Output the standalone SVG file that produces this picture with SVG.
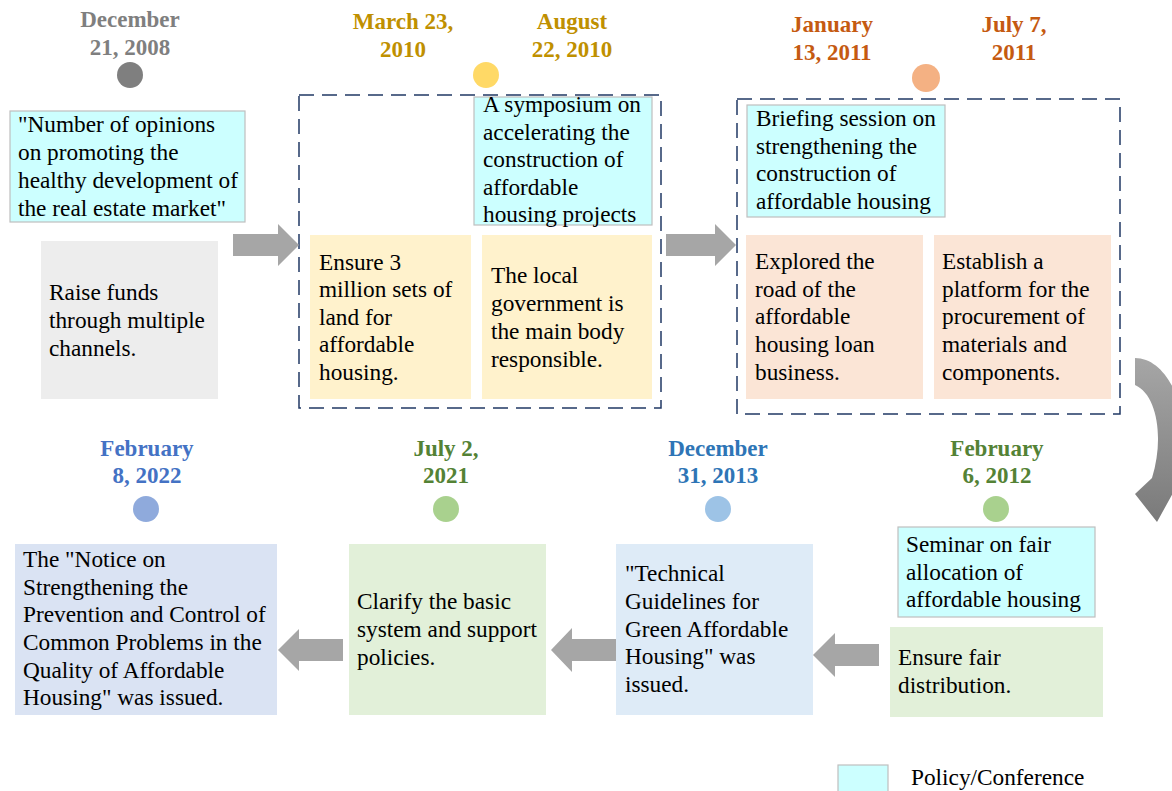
<svg xmlns="http://www.w3.org/2000/svg" width="1172" height="791" viewBox="0 0 1172 791">
<defs>
<style>
.t{font-family:"Liberation Serif","Times New Roman",serif;font-size:23.3px;fill:#000}
.d{font-family:"Liberation Serif","Times New Roman",serif;font-size:23px;font-weight:bold;text-anchor:middle}
.cy{fill:#ccffff;stroke:#bfbfbf;stroke-width:1.2}
.dash{fill:none;stroke:#203864;stroke-width:1.5;stroke-dasharray:15 8}
.arr{fill:#a6a6a6}
</style>
<linearGradient id="cg" x1="0" y1="0" x2="0" y2="1">
<stop offset="0" stop-color="#a6a6a6"/>
<stop offset="1" stop-color="#7a7a7a"/>
</linearGradient>
</defs>
<rect width="1172" height="791" fill="#ffffff"/>

<g id="group-2010">
<rect class="dash" x="299" y="95" width="362" height="313"/>
</g>
<g id="group-2011">
<rect class="dash" x="737" y="99" width="383" height="315"/>
</g>

<g id="node-2008">
<text class="d" fill="#7f7f7f" x="130" y="27">December</text>
<text class="d" fill="#7f7f7f" x="130" y="55">21, 2008</text>
<circle cx="130" cy="75" r="13" fill="#7f7f7f"/>
<rect class="cy" x="10" y="111" width="235" height="111"/>
<text class="t"><tspan x="18" y="132">"Number of opinions</tspan><tspan x="18" y="160">on promoting the</tspan><tspan x="18" y="188">healthy development of</tspan><tspan x="18" y="216">the real estate market"</tspan></text>
<rect x="41" y="241" width="177" height="158" fill="#ededed"/>
<text class="t"><tspan x="49" y="300">Raise funds</tspan><tspan x="49" y="328">through multiple</tspan><tspan x="49" y="356">channels.</tspan></text>
</g>

<g id="node-2010-03">
<text class="d" fill="#bf9000" x="403" y="29">March 23,</text>
<text class="d" fill="#bf9000" x="403" y="57">2010</text>
<rect x="310" y="235" width="161" height="164" fill="#fff2cc"/>
<text class="t"><tspan x="319" y="270">Ensure 3</tspan><tspan x="319" y="297">million sets of</tspan><tspan x="319" y="325">land for</tspan><tspan x="319" y="352">affordable</tspan><tspan x="319" y="380">housing.</tspan></text>
</g>

<g id="node-2010-08">
<text class="d" fill="#bf9000" x="572" y="29">August</text>
<text class="d" fill="#bf9000" x="572" y="57">22, 2010</text>
<circle cx="486" cy="75" r="13" fill="#ffd966"/>
<rect class="cy" x="474" y="97" width="178" height="128"/>
<text class="t"><tspan x="483" y="112">A symposium on</tspan><tspan x="483" y="140">accelerating the</tspan><tspan x="483" y="167">construction of</tspan><tspan x="483" y="195">affordable</tspan><tspan x="483" y="222">housing projects</tspan></text>
<rect x="482" y="235" width="170" height="164" fill="#fff2cc"/>
<text class="t"><tspan x="491" y="283">The local</tspan><tspan x="491" y="311">government is</tspan><tspan x="491" y="339">the main body</tspan><tspan x="491" y="367">responsible.</tspan></text>
</g>

<g id="node-2011-01">
<text class="d" fill="#c55a11" x="832" y="32">January</text>
<text class="d" fill="#c55a11" x="832" y="60">13, 2011</text>
<circle cx="926" cy="78" r="14" fill="#f4b183"/>
<rect class="cy" x="747" y="105" width="198" height="112"/>
<text class="t"><tspan x="756" y="126">Briefing session on</tspan><tspan x="756" y="154">strengthening the</tspan><tspan x="756" y="181">construction of</tspan><tspan x="756" y="209">affordable housing</tspan></text>
<rect x="746" y="235" width="177" height="164" fill="#fbe5d6"/>
<text class="t"><tspan x="755" y="269">Explored the</tspan><tspan x="755" y="297">road of the</tspan><tspan x="755" y="324">affordable</tspan><tspan x="755" y="352">housing loan</tspan><tspan x="755" y="380">business.</tspan></text>
</g>

<g id="node-2011-07">
<text class="d" fill="#c55a11" x="1014" y="32">July 7,</text>
<text class="d" fill="#c55a11" x="1014" y="60">2011</text>
<rect x="934" y="235" width="177" height="164" fill="#fbe5d6"/>
<text class="t"><tspan x="942" y="269">Establish a</tspan><tspan x="942" y="297">platform for the</tspan><tspan x="942" y="324">procurement of</tspan><tspan x="942" y="352">materials and</tspan><tspan x="942" y="380">components.</tspan></text>
</g>

<g id="node-2012">
<text class="d" fill="#548235" x="997" y="456">February</text>
<text class="d" fill="#548235" x="997" y="483">6, 2012</text>
<circle cx="996" cy="509" r="13" fill="#a9d18e"/>
<rect class="cy" x="898" y="527" width="197" height="90"/>
<text class="t"><tspan x="906" y="552">Seminar on fair</tspan><tspan x="906" y="580">allocation of</tspan><tspan x="906" y="607">affordable housing</tspan></text>
<rect x="890" y="627" width="213" height="90" fill="#e2f0d9"/>
<text class="t"><tspan x="898" y="665">Ensure fair</tspan><tspan x="898" y="693">distribution.</tspan></text>
</g>

<g id="node-2013">
<text class="d" fill="#2e75b6" x="718" y="456">December</text>
<text class="d" fill="#2e75b6" x="718" y="483">31, 2013</text>
<circle cx="718" cy="509" r="13" fill="#9dc3e6"/>
<rect x="616" y="544" width="197" height="171" fill="#deebf7"/>
<text class="t"><tspan x="625" y="581">"Technical</tspan><tspan x="625" y="609">Guidelines for</tspan><tspan x="625" y="637">Green Affordable</tspan><tspan x="625" y="664">Housing" was</tspan><tspan x="625" y="692">issued.</tspan></text>
</g>

<g id="node-2021">
<text class="d" fill="#548235" x="446" y="456">July 2,</text>
<text class="d" fill="#548235" x="446" y="483">2021</text>
<circle cx="446" cy="509" r="13" fill="#a9d18e"/>
<rect x="349" y="544" width="197" height="171" fill="#e2f0d9"/>
<text class="t"><tspan x="357" y="609">Clarify the basic</tspan><tspan x="357" y="637">system and support</tspan><tspan x="357" y="665">policies.</tspan></text>
</g>

<g id="node-2022">
<text class="d" fill="#4472c4" x="147" y="456">February</text>
<text class="d" fill="#4472c4" x="147" y="483">8, 2022</text>
<circle cx="146" cy="509" r="13" fill="#8faadc"/>
<rect x="15" y="544" width="262" height="171" fill="#dae3f3"/>
<text class="t"><tspan x="23" y="567">The "Notice on</tspan><tspan x="23" y="595">Strengthening the</tspan><tspan x="23" y="622">Prevention and Control of</tspan><tspan x="23" y="650">Common Problems in the</tspan><tspan x="23" y="678">Quality of Affordable</tspan><tspan x="23" y="705">Housing" was issued.</tspan></text>
</g>

<g id="connectors">
<path class="arr" d="M233,234 H278 V224 L299,245 L278,266 V256 H233 Z"/>
<path class="arr" d="M666,234 H715 V224 L736,245 L715,266 V256 H666 Z"/>
<path fill="url(#cg)" d="M1135,358 C1168,358 1190,410 1185,460 L1190,462 L1157,522 L1135,494 L1152,478 C1164,440 1158,395 1135,385 Z"/>
<path class="arr" d="M813,655 L835,633 V644 H879 V666 H835 V677 Z"/>
<path class="arr" d="M551,650 L572,628 V639 H616 V661 H572 V672 Z"/>
<path class="arr" d="M278,650 L299,629 V639 H343 V661 H299 V671 Z"/>
</g>

<g id="legend">
<rect class="cy" x="838" y="765" width="50" height="30"/>
<text class="t" x="911" y="785">Policy/Conference</text>
</g>
</svg>
